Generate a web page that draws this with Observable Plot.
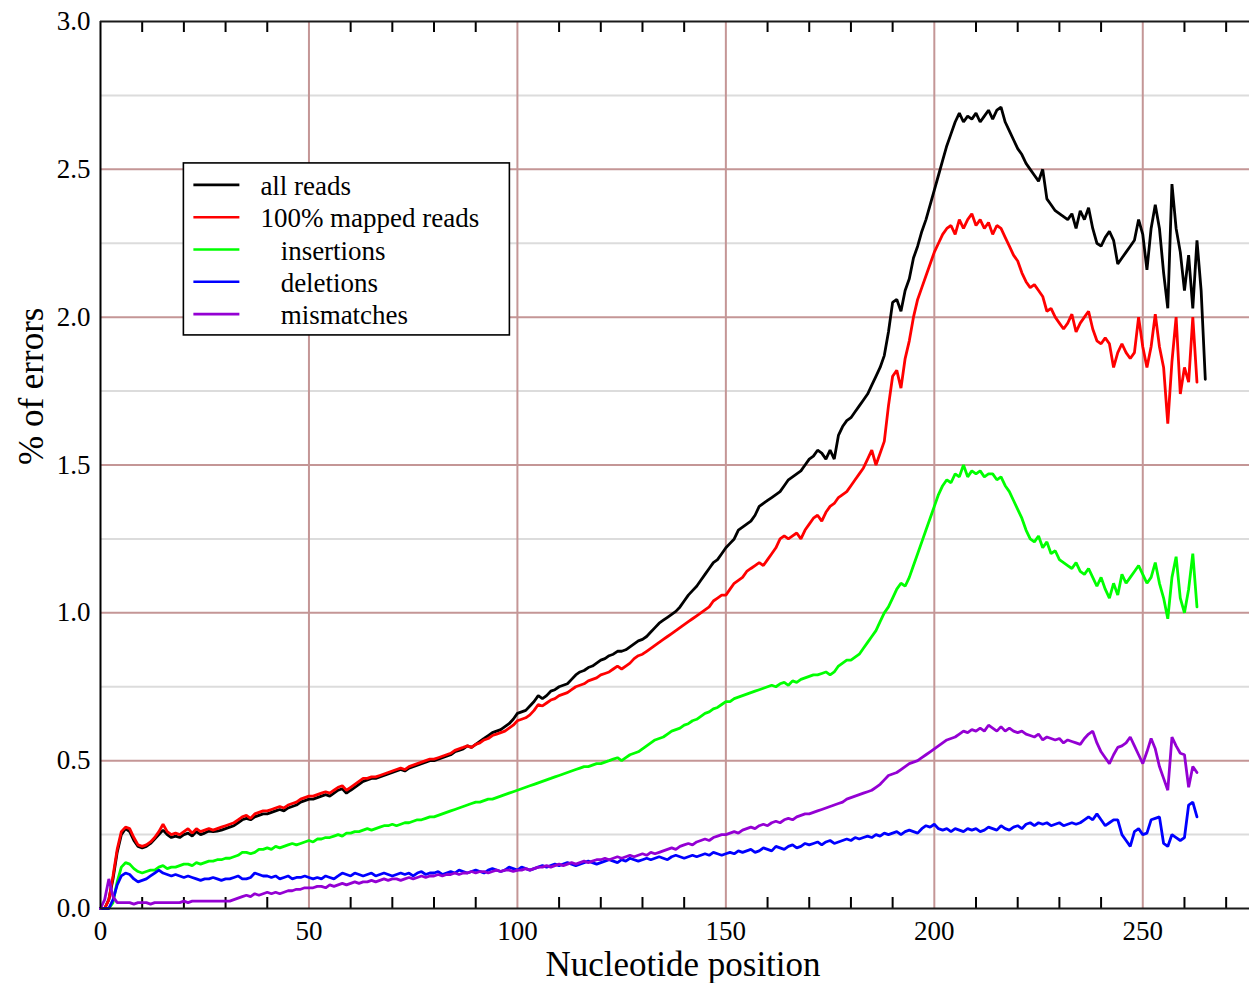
<!DOCTYPE html>
<html>
<head>
<meta charset="utf-8">
<script src="https://cdn.jsdelivr.net/npm/d3@7"></script>
<script src="https://cdn.jsdelivr.net/npm/@observablehq/plot@0.6"></script>
<style>
  body { margin: 0; background: #fff; }
  #chart { position: relative; width: 1249px; height: 983px; }
</style>
</head>
<body>
<div id="chart"></div>
<script>
// Error rate (% of errors) by nucleotide position, one value per position.
const allReads = [
  0,0,0.03,0.10,0.19,0.25,0.27,0.26,0.23,0.21,
  0.205,0.21,0.22,0.235,0.25,0.265,0.25,0.24,0.245,0.24,
  0.25,0.255,0.245,0.26,0.25,0.255,0.262,0.26,0.262,0.265,
  0.27,0.275,0.28,0.29,0.30,0.305,0.30,0.31,0.315,0.32,
  0.32,0.325,0.33,0.335,0.33,0.34,0.345,0.35,0.36,0.365,
  0.37,0.37,0.375,0.38,0.385,0.38,0.39,0.40,0.405,0.39,
  0.40,0.41,0.42,0.43,0.435,0.44,0.44,0.445,0.45,0.455,
  0.46,0.465,0.47,0.465,0.475,0.48,0.485,0.49,0.495,0.50,
  0.50,0.505,0.51,0.515,0.52,0.53,0.535,0.54,0.55,0.545,
  0.555,0.565,0.575,0.585,0.595,0.60,0.605,0.615,0.625,0.64,
  0.66,0.665,0.67,0.685,0.70,0.72,0.71,0.72,0.735,0.74,
  0.75,0.755,0.76,0.775,0.79,0.80,0.805,0.815,0.82,0.83,
  0.84,0.845,0.855,0.86,0.87,0.87,0.875,0.885,0.895,0.905,
  0.91,0.92,0.935,0.95,0.965,0.975,0.985,0.995,1.005,1.02,
  1.04,1.06,1.075,1.09,1.11,1.13,1.15,1.17,1.18,1.20,
  1.22,1.235,1.25,1.28,1.29,1.30,1.31,1.33,1.36,1.37,
  1.38,1.39,1.40,1.41,1.43,1.45,1.46,1.47,1.48,1.50,
  1.52,1.53,1.55,1.54,1.52,1.55,1.52,1.60,1.63,1.65,
  1.66,1.68,1.70,1.72,1.74,1.77,1.80,1.83,1.87,1.95,
  2.05,2.06,2.02,2.09,2.13,2.20,2.24,2.29,2.33,2.38,
  2.43,2.48,2.53,2.58,2.62,2.66,2.69,2.66,2.68,2.67,
  2.69,2.66,2.68,2.70,2.67,2.70,2.71,2.66,2.63,2.60,
  2.57,2.55,2.52,2.50,2.48,2.46,2.50,2.40,2.38,2.36,
  2.35,2.34,2.33,2.35,2.30,2.36,2.33,2.37,2.30,2.25,
  2.24,2.27,2.29,2.26,2.18,2.20,2.22,2.24,2.26,2.33,
  2.28,2.16,2.30,2.38,2.30,2.15,2.03,2.45,2.30,2.22,
  2.09,2.21,2.03,2.26,2.09,1.79
];

const mappedReads = [
  0,0,0.03,0.11,0.20,0.26,0.275,0.27,0.24,0.215,
  0.21,0.215,0.225,0.24,0.26,0.285,0.26,0.25,0.255,0.25,
  0.26,0.27,0.255,0.27,0.26,0.265,0.27,0.265,0.27,0.275,
  0.28,0.285,0.29,0.30,0.31,0.315,0.305,0.32,0.325,0.33,
  0.33,0.335,0.34,0.345,0.34,0.35,0.355,0.36,0.37,0.375,
  0.38,0.38,0.385,0.39,0.395,0.39,0.40,0.41,0.415,0.40,
  0.41,0.42,0.43,0.44,0.44,0.445,0.445,0.45,0.455,0.46,
  0.465,0.47,0.475,0.47,0.48,0.485,0.49,0.495,0.50,0.505,
  0.505,0.51,0.515,0.52,0.525,0.535,0.54,0.545,0.55,0.545,
  0.555,0.56,0.57,0.575,0.585,0.59,0.595,0.60,0.61,0.62,
  0.635,0.64,0.645,0.655,0.67,0.69,0.685,0.695,0.705,0.71,
  0.72,0.725,0.73,0.74,0.75,0.755,0.76,0.77,0.775,0.78,
  0.79,0.795,0.80,0.81,0.82,0.81,0.82,0.83,0.845,0.855,
  0.86,0.87,0.88,0.89,0.90,0.91,0.92,0.93,0.94,0.95,
  0.96,0.97,0.98,0.99,1.00,1.01,1.02,1.04,1.05,1.06,
  1.06,1.08,1.10,1.11,1.12,1.14,1.15,1.16,1.17,1.16,
  1.18,1.20,1.22,1.25,1.26,1.25,1.26,1.27,1.25,1.28,
  1.30,1.32,1.33,1.31,1.34,1.36,1.37,1.39,1.40,1.41,
  1.43,1.45,1.47,1.49,1.52,1.55,1.50,1.54,1.58,1.70,
  1.80,1.82,1.76,1.86,1.92,2.00,2.06,2.10,2.14,2.18,
  2.22,2.25,2.28,2.30,2.31,2.28,2.33,2.30,2.33,2.35,
  2.31,2.33,2.30,2.32,2.28,2.31,2.30,2.27,2.24,2.21,
  2.19,2.15,2.12,2.10,2.11,2.09,2.07,2.02,2.03,2.00,
  1.98,1.96,1.98,2.01,1.95,1.98,2.00,2.02,1.96,1.92,
  1.91,1.93,1.91,1.83,1.88,1.91,1.88,1.86,1.88,2.00,
  1.90,1.83,1.90,2.01,1.90,1.83,1.64,1.85,2.00,1.74,
  1.83,1.78,2.00,1.78
];

const insertions = [
  0,0,0,0.02,0.09,0.14,0.155,0.15,0.135,0.125,
  0.12,0.125,0.13,0.13,0.14,0.145,0.135,0.14,0.14,0.145,
  0.15,0.15,0.145,0.155,0.15,0.155,0.16,0.16,0.165,0.165,
  0.17,0.17,0.175,0.18,0.19,0.19,0.185,0.19,0.20,0.20,
  0.205,0.20,0.21,0.205,0.21,0.215,0.22,0.215,0.22,0.225,
  0.23,0.225,0.235,0.235,0.24,0.24,0.245,0.25,0.245,0.255,
  0.255,0.26,0.26,0.265,0.27,0.265,0.27,0.275,0.28,0.28,
  0.285,0.28,0.285,0.29,0.29,0.295,0.30,0.30,0.305,0.31,
  0.31,0.315,0.32,0.325,0.33,0.335,0.34,0.345,0.35,0.355,
  0.36,0.36,0.365,0.37,0.37,0.375,0.38,0.385,0.39,0.395,
  0.40,0.405,0.41,0.415,0.42,0.425,0.43,0.435,0.44,0.445,
  0.45,0.455,0.46,0.465,0.47,0.475,0.48,0.48,0.485,0.49,
  0.49,0.495,0.50,0.505,0.51,0.50,0.51,0.52,0.525,0.53,
  0.54,0.55,0.56,0.57,0.575,0.58,0.59,0.60,0.605,0.61,
  0.62,0.625,0.635,0.64,0.65,0.66,0.665,0.675,0.68,0.69,
  0.70,0.70,0.71,0.715,0.72,0.725,0.73,0.735,0.74,0.745,
  0.75,0.755,0.75,0.76,0.765,0.755,0.77,0.765,0.775,0.78,
  0.785,0.79,0.79,0.795,0.80,0.79,0.80,0.82,0.83,0.84,
  0.84,0.85,0.86,0.88,0.90,0.92,0.94,0.97,1.00,1.02,
  1.05,1.08,1.10,1.09,1.12,1.16,1.20,1.24,1.28,1.32,
  1.36,1.40,1.43,1.45,1.44,1.47,1.46,1.50,1.46,1.48,
  1.47,1.48,1.46,1.47,1.47,1.45,1.46,1.43,1.41,1.38,
  1.35,1.32,1.28,1.25,1.24,1.26,1.22,1.24,1.20,1.21,
  1.18,1.17,1.16,1.15,1.17,1.14,1.13,1.15,1.12,1.09,
  1.12,1.08,1.05,1.10,1.06,1.13,1.10,1.12,1.14,1.16,
  1.13,1.10,1.12,1.17,1.10,1.05,0.98,1.12,1.19,1.05,
  1.00,1.08,1.20,1.02
];

const deletions = [
  0,0,0,0.03,0.08,0.11,0.12,0.115,0.10,0.09,
  0.095,0.10,0.11,0.12,0.13,0.12,0.115,0.11,0.115,0.11,
  0.105,0.11,0.105,0.10,0.095,0.10,0.10,0.105,0.10,0.095,
  0.10,0.10,0.105,0.11,0.10,0.10,0.105,0.12,0.115,0.11,
  0.11,0.105,0.11,0.10,0.105,0.11,0.10,0.105,0.105,0.11,
  0.105,0.10,0.105,0.10,0.11,0.105,0.10,0.11,0.12,0.115,
  0.11,0.12,0.115,0.11,0.115,0.12,0.11,0.115,0.12,0.115,
  0.11,0.115,0.12,0.115,0.12,0.11,0.12,0.125,0.115,0.12,
  0.12,0.125,0.115,0.12,0.125,0.12,0.13,0.125,0.12,0.125,
  0.13,0.125,0.12,0.13,0.135,0.13,0.125,0.13,0.14,0.135,
  0.13,0.14,0.135,0.13,0.135,0.14,0.145,0.14,0.145,0.15,
  0.145,0.15,0.155,0.15,0.145,0.15,0.155,0.16,0.155,0.15,
  0.155,0.16,0.165,0.16,0.155,0.165,0.16,0.17,0.165,0.16,
  0.165,0.17,0.165,0.17,0.175,0.17,0.165,0.175,0.18,0.175,
  0.17,0.175,0.18,0.175,0.18,0.185,0.18,0.19,0.185,0.18,
  0.185,0.19,0.185,0.195,0.19,0.195,0.20,0.19,0.195,0.205,
  0.20,0.195,0.21,0.205,0.20,0.21,0.215,0.205,0.21,0.22,
  0.215,0.22,0.225,0.215,0.225,0.23,0.22,0.225,0.23,0.235,
  0.23,0.24,0.235,0.24,0.245,0.24,0.25,0.245,0.255,0.25,
  0.255,0.26,0.25,0.26,0.265,0.26,0.255,0.27,0.28,0.275,
  0.285,0.27,0.265,0.27,0.26,0.27,0.265,0.26,0.27,0.265,
  0.27,0.26,0.265,0.275,0.27,0.265,0.28,0.27,0.265,0.275,
  0.28,0.27,0.285,0.29,0.28,0.29,0.285,0.29,0.28,0.285,
  0.29,0.28,0.285,0.29,0.285,0.29,0.30,0.31,0.30,0.32,
  0.30,0.28,0.29,0.30,0.30,0.25,0.23,0.21,0.26,0.27,
  0.25,0.255,0.30,0.305,0.31,0.22,0.21,0.25,0.24,0.23,
  0.24,0.35,0.36,0.31
];

const mismatches = [
  0,0.03,0.10,0.04,0.02,0.02,0.02,0.02,0.015,0.02,
  0.02,0.02,0.015,0.02,0.02,0.02,0.02,0.02,0.02,0.02,
  0.025,0.02,0.025,0.025,0.025,0.025,0.025,0.025,0.025,0.025,
  0.025,0.025,0.03,0.035,0.04,0.045,0.04,0.05,0.045,0.05,
  0.055,0.05,0.055,0.05,0.055,0.06,0.06,0.065,0.065,0.07,
  0.07,0.07,0.075,0.075,0.07,0.08,0.075,0.08,0.085,0.08,
  0.085,0.09,0.085,0.09,0.09,0.095,0.09,0.095,0.10,0.095,
  0.10,0.10,0.095,0.10,0.105,0.10,0.105,0.11,0.105,0.11,
  0.11,0.115,0.11,0.115,0.115,0.12,0.115,0.12,0.12,0.125,
  0.12,0.125,0.125,0.12,0.125,0.13,0.125,0.13,0.13,0.125,
  0.13,0.13,0.135,0.13,0.135,0.14,0.14,0.145,0.14,0.145,
  0.15,0.145,0.15,0.155,0.15,0.155,0.16,0.155,0.16,0.165,
  0.165,0.17,0.165,0.17,0.175,0.17,0.175,0.18,0.175,0.18,
  0.185,0.18,0.19,0.185,0.19,0.195,0.20,0.205,0.20,0.21,
  0.215,0.22,0.215,0.225,0.23,0.235,0.23,0.24,0.245,0.25,
  0.25,0.255,0.26,0.255,0.265,0.27,0.275,0.27,0.28,0.285,
  0.28,0.29,0.295,0.29,0.30,0.305,0.30,0.31,0.315,0.32,
  0.32,0.325,0.33,0.335,0.34,0.345,0.35,0.355,0.36,0.37,
  0.375,0.38,0.385,0.39,0.395,0.40,0.41,0.42,0.435,0.45,
  0.455,0.46,0.47,0.48,0.49,0.495,0.50,0.51,0.52,0.53,
  0.54,0.55,0.56,0.57,0.575,0.58,0.59,0.60,0.595,0.605,
  0.60,0.61,0.60,0.62,0.61,0.60,0.615,0.60,0.61,0.60,
  0.595,0.60,0.59,0.585,0.58,0.59,0.57,0.58,0.575,0.57,
  0.575,0.56,0.57,0.565,0.56,0.555,0.575,0.59,0.60,0.56,
  0.53,0.51,0.49,0.52,0.545,0.55,0.56,0.58,0.55,0.52,
  0.49,0.53,0.575,0.54,0.48,0.44,0.40,0.58,0.55,0.525,
  0.52,0.41,0.48,0.46
];

const seriesNames = ["all reads", "100% mapped reads", "insertions", "deletions", "mismatches"];
const legendLabels = ["all reads", "100% mapped reads", "   insertions", "   deletions", "   mismatches"];
const seriesColors = ["#000000", "#ff0000", "#00ff00", "#0000ff", "#9400d3"];

const xTickLabels = [0, 50, 100, 150, 200, 250];
const yTickLabels = [0, 0.5, 1.0, 1.5, 2.0, 2.5, 3.0];
const xMinorTicks = d3.range(10, 280, 10).filter(d => d % 50 !== 0);
const yMajorGrid = [0.5, 1.0, 1.5, 2.0, 2.5];
const yMinorGrid = [0.25, 0.75, 1.25, 1.75, 2.25, 2.75];
const xMajorGrid = [50, 100, 150, 200, 250];

const xLabel = "Nucleotide position";
const yLabel = "% of errors";

const serif = "Liberation Serif";

// Long-format rows: one per (series, position)
const seriesValues = [allReads, mappedReads, insertions, deletions, mismatches];
const rows = seriesValues.flatMap((vals, k) =>
  vals.map((v, i) => ({position: i, errors: v, series: seriesNames[k]}))
);

const majorGridColor = "#c49696";
const minorGridColor = "#dcdcdc";

const chart = Plot.plot({
  width: 1249,
  height: 983,
  marginLeft: 100,
  marginRight: 0,
  marginTop: 21,
  marginBottom: 75,
  style: {fontFamily: serif, fontSize: "27px", color: "#000", background: "#fff", overflow: "visible"},
  x: {domain: [0, 275.6], axis: null},
  y: {domain: [0, 3], axis: null},
  color: {domain: seriesNames, range: seriesColors},
  marks: [
    Plot.ruleY(yMinorGrid, {stroke: minorGridColor, strokeWidth: 2}),
    Plot.ruleY(yMajorGrid, {stroke: majorGridColor, strokeWidth: 2}),
    Plot.ruleX(xMajorGrid, {stroke: majorGridColor, strokeWidth: 2}),
    // inward minor ticks along the bottom and top edges
    Plot.axisX(xMinorTicks, {anchor: "bottom", tickSize: -11, tickFormat: () => "", strokeWidth: 2, label: null}),
    Plot.axisX(xMinorTicks, {anchor: "top", tickSize: -10, tickFormat: () => "", strokeWidth: 2, label: null}),
    // tick labels
    Plot.text(xTickLabels, {x: d => d, text: d => String(d), frameAnchor: "bottom", dy: 31, fontSize: 27, fontFamily: serif}),
    Plot.text(yTickLabels, {y: d => d, text: d => d.toFixed(1), frameAnchor: "left", dx: -10, textAnchor: "end", fontSize: 27, fontFamily: serif}),
    Plot.line(rows, {x: "position", y: "errors", z: "series", stroke: "series", strokeWidth: 2.8, strokeLinejoin: "miter"}),
    // frame: left, bottom and top edges
    Plot.ruleX([0], {stroke: "#000", strokeWidth: 2}),
    Plot.ruleY([0, 3], {stroke: "#1a1a1a", strokeWidth: 2}),
    Plot.text([xLabel], {frameAnchor: "bottom", dx: 8, dy: 67, fontSize: 35, fontFamily: serif}),
    Plot.text([yLabel], {frameAnchor: "left", rotate: -90, dx: -69, fontSize: 35, fontFamily: serif})
  ]
});

document.getElementById("chart").appendChild(chart);

// Legend box inside the plot area, anchored through the scales
const xs = chart.scale("x");
const ys = chart.scale("y");
const bx = xs.apply(20);
const by = ys.apply(2.52);
const svg = d3.select(chart);
const g = svg.append("g")
  .attr("font-family", serif)
  .attr("font-size", 27)
  .attr("fill", "#000")
  .attr("text-anchor", "start");
g.append("rect")
  .attr("x", bx).attr("y", by)
  .attr("width", 326).attr("height", 172)
  .attr("fill", "#fff").attr("stroke", "#000").attr("stroke-width", 1.6);
legendLabels.forEach((label, i) => {
  const yy = by + 22 + i * 32.3;
  g.append("line")
    .attr("x1", bx + 10).attr("x2", bx + 56)
    .attr("y1", yy).attr("y2", yy)
    .attr("stroke", seriesColors[i]).attr("stroke-width", 2.6);
  g.append("text")
    .attr("x", bx + 77).attr("y", yy + 10)
    .style("white-space", "pre")
    .text(label);
});
</script>
</body>
</html>
